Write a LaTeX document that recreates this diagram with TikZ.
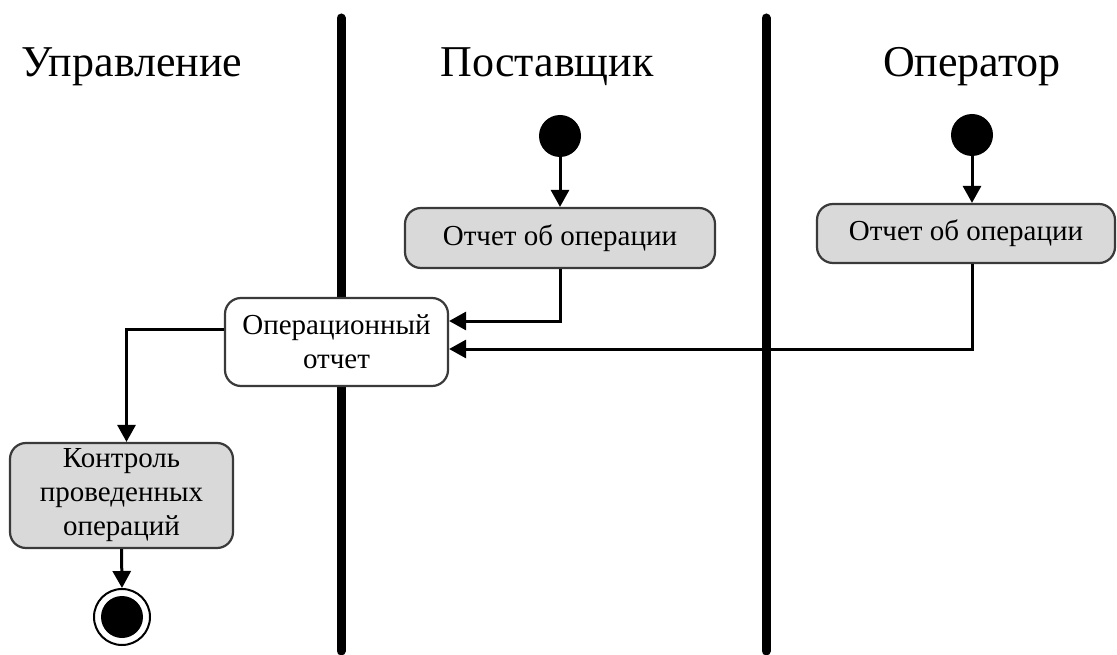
\documentclass[tikz,border=0pt]{standalone}
\usepackage{fontspec}
\setmainfont{Liberation Serif}
\usetikzlibrary{arrows.meta}
\definecolor{actfill}{HTML}{D9D9D9}
\definecolor{actline}{HTML}{3A3A3A}
\begin{document}
\begin{tikzpicture}[x=1pt,y=-1pt,
  lane/.style={line width=9pt, line cap=round},
  title/.style={font=\fontsize{44}{50}\selectfont, anchor=base},
  act/.style={draw=actline, line width=2.2pt, rounded corners=16pt, inner sep=0pt,
    align=center, font=\fontsize{29}{34}\selectfont},
  grayact/.style={act, fill=actfill},
  whiteact/.style={act, fill=white},
  startdot/.style={circle, fill=black, minimum size=42pt, inner sep=0pt},
  flow/.style={line width=3pt, -{Triangle[width=18pt,length=17pt]}}]
\useasboundingbox (0,0) rectangle (1117,655);
% swimlane separators
\coordinate (l1top) at (341,18);
\coordinate (l1bot) at (341,651);
\coordinate (l2top) at (766,18);
\coordinate (l2bot) at (766,651);
\draw[lane] (l1top) -- (l1bot);
\draw[lane] (l2top) -- (l2bot);
% lane titles
\node[title] (t1) at (132,77) {Управление};
\node[title] (t2) at (547,77) {Поставщик};
\node[title] (t3) at (972,77) {Оператор};
% initial nodes
\node[startdot] (s1) at (560,136) {};
\node[startdot] (s2) at (972,135) {};
% activities
\node[grayact, minimum width=310pt, minimum height=60pt] (b1) at (560,238) {Отчет об операции};
\node[grayact, minimum width=298pt, minimum height=59pt] (b2) at (966,233.5) {Отчет об операции};
\node[whiteact, minimum width=223pt, minimum height=88pt] (ops) at (336.5,342) {Операционный\\отчет};
\node[grayact, minimum width=223pt, minimum height=105pt] (ctrl) at (121.5,495.5) {Контроль\\проведенных\\операций};
% final node
\node[circle, draw=black, line width=2pt, fill=white, minimum size=56pt, inner sep=0pt] (fin) at (122,617) {};
\node[circle, fill=black, minimum size=42pt, inner sep=0pt] (finc) at (fin.center) {};
% control flows
\draw[flow] (s1) -- (s1 |- b1.north);
\draw[flow] (s2) -- (s2 |- b2.north);
\draw[flow] (b1.south) |- ([yshift=21pt]ops.east);
\draw[flow] (b2.south -| s2) |- ([yshift=-7pt]ops.east);
\draw[flow] ([yshift=13pt]ops.west) -| ([xshift=5pt]ctrl.north);
\draw[flow] (ctrl.south) -- (fin.north);
\end{tikzpicture}
\end{document}
